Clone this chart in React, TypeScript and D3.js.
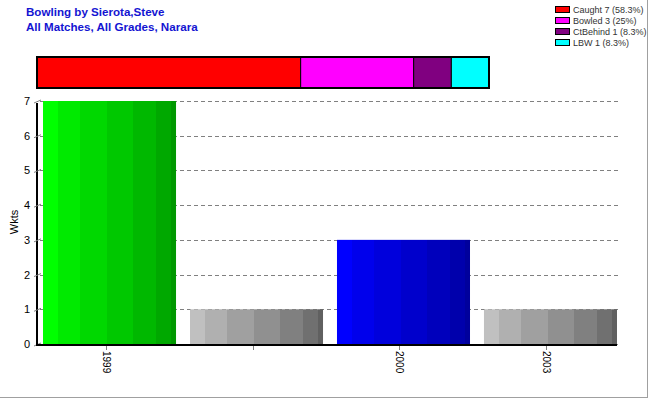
import React, { useRef, useEffect } from 'react';
import * as d3 from 'd3';

const years = ['1999', '', '2000', '2003'];
const wickets = [7, 1, 3, 1];
const barColors = ['green', 'gray', 'blue', 'gray'];

const dismissals = ['Caught', 'Bowled', 'CtBehind', 'LBW'];
const dismissalCounts = [7, 3, 1, 1];
const dismissalColors = ['#ff0000', '#ff00ff', '#800080', '#00ffff'];

const yTicks = [0, 1, 2, 3, 4, 5, 6, 7];

// stepped shading used across each column
const stripes = [0.11, 0.17, 0.2, 0.2, 0.17, 0.11, 0.04];
const shades: Record<string, string[]> = {
	green: ['#00ff00', '#00ea00', '#00d800', '#00c800', '#00b800', '#00a800', '#009800'],
	gray: ['#c0c0c0', '#b0b0b0', '#a0a0a0', '#909090', '#808080', '#707070', '#606060'],
	blue: ['#0000ff', '#0000ec', '#0000dc', '#0000cc', '#0000bc', '#0000ac', '#00009c'],
};

const App: React.FC = () => {
	const svgRef = useRef<SVGSVGElement | null>(null);

	useEffect(() => {
		const svg = d3.select(svgRef.current);
		svg.selectAll('*').remove();
		const font = 'Liberation Sans, Arial, sans-serif';

		const x = d3.scaleBand<number>().domain(d3.range(years.length)).range([43, 617]).paddingInner(0.095).paddingOuter(0);
		const y = d3.scaleLinear().domain([0, 7]).range([344, 101]);

		// gradients
		const defs = svg.append('defs');
		Object.keys(shades).forEach((k) => {
			const g = defs.append('linearGradient').attr('id', 'grad-' + k).attr('x1', 0).attr('x2', 1).attr('y1', 0).attr('y2', 0);
			let acc = 0;
			stripes.forEach((s, i) => {
				g.append('stop').attr('offset', acc).attr('stop-color', shades[k][i]);
				acc += s;
				g.append('stop').attr('offset', Math.min(acc, 1)).attr('stop-color', shades[k][i]);
			});
		});

		// outer border (right/bottom)
		svg.append('line').attr('x1', 647.5).attr('x2', 647.5).attr('y1', 0).attr('y2', 398).attr('stroke', '#a0a0a0');
		svg.append('line').attr('x1', 0).attr('x2', 648).attr('y1', 397.5).attr('y2', 397.5).attr('stroke', '#a0a0a0');

		// titles
		const title = svg.append('g').attr('fill', '#1414d2').attr('font-family', font).attr('font-weight', 'bold').attr('font-size', 11.6);
		title.append('text').attr('x', 26).attr('y', 16).text('Bowling by Sierota,Steve');
		title.append('text').attr('x', 26).attr('y', 31).text('All Matches, All Grades, Narara');

		// legend
		const legend = svg.append('g').attr('font-family', font).attr('font-size', 9).attr('fill', '#333');
		const total = d3.sum(dismissalCounts);
		dismissals.forEach((d, i) => {
			const yy = 7 + i * 11;
			legend.append('rect').attr('x', 555.5).attr('y', yy - 0.5).attr('width', 14).attr('height', 6).attr('fill', dismissalColors[i]).attr('stroke', '#000');
			const pct = d3.format('.1~f')((dismissalCounts[i] / total) * 100);
			legend.append('text').attr('x', 573).attr('y', yy + 6).text(`${d} ${dismissalCounts[i]} (${pct}%)`);
		});

		// stacked proportion bar
		const sx = d3.scaleLinear().domain([0, total]).range([37, 489]);
		const cum = d3.cumsum(dismissalCounts);
		dismissalCounts.forEach((c, i) => {
			const x0 = sx(cum[i] - c);
			svg.append('rect').attr('x', x0).attr('y', 57).attr('width', sx(cum[i]) - x0).attr('height', 31).attr('fill', dismissalColors[i]).attr('stroke', '#000').attr('stroke-width', 1);
		});
		svg.append('rect').attr('x', 37).attr('y', 57).attr('width', 452).attr('height', 31).attr('fill', 'none').attr('stroke', '#000').attr('stroke-width', 2);

		// gridlines
		svg.append('g').selectAll('line').data(yTicks).join('line')
			.attr('x1', 40).attr('x2', 620).attr('y1', (d) => Math.round(y(d)) + 0.5).attr('y2', (d) => Math.round(y(d)) + 0.5)
			.attr('stroke', '#808080').attr('stroke-dasharray', '4,3');

		// bars
		svg.append('g').selectAll('rect').data(wickets).join('rect')
			.attr('x', (_, i) => x(i) as number).attr('width', x.bandwidth())
			.attr('y', (d) => y(d)).attr('height', (d) => y(0) - y(d))
			.attr('fill', (_, i) => `url(#grad-${barColors[i]})`);

		// y axis
		svg.append('line').attr('x1', 37).attr('x2', 37).attr('y1', 103).attr('y2', 346).attr('stroke', '#000').attr('stroke-width', 2);
		const yt = svg.append('g').attr('font-family', font).attr('font-size', 11);
		yTicks.forEach((t) => {
			const yy = y(t);
			yt.append('line').attr('x1', 34).attr('x2', 41).attr('y1', yy + 2).attr('y2', yy - 1).attr('stroke', '#808080');
			yt.append('text').attr('x', 30).attr('y', yy + 4).attr('text-anchor', 'end').text(t);
		});
		svg.append('text').attr('transform', 'translate(18,222) rotate(-90)').attr('text-anchor', 'middle')
			.attr('font-family', font).attr('font-size', 11).text('Wkts');

		// x axis
		svg.append('line').attr('x1', 36).attr('x2', 617).attr('y1', 345).attr('y2', 345).attr('stroke', '#000').attr('stroke-width', 2);
		const xt = svg.append('g').attr('font-family', font).attr('font-size', 10);
		years.forEach((yr, i) => {
			const cx = Math.round((x(i) as number) + x.bandwidth() / 2 - 4) + 0.5;
			xt.append('line').attr('x1', cx).attr('x2', cx).attr('y1', 346).attr('y2', 350).attr('stroke', '#808080');
			if (yr) {
				xt.append('text').attr('transform', `translate(${cx - 4},351) rotate(90)`).text(yr);
			}
		});
	}, []);

	return (
		<div style={{ position: 'fixed', left: 0, top: 0 }}>
			<svg ref={svgRef} width={650} height={400} style={{ display: 'block', background: '#fff' }} />
		</div>
	);
};

export default App;
